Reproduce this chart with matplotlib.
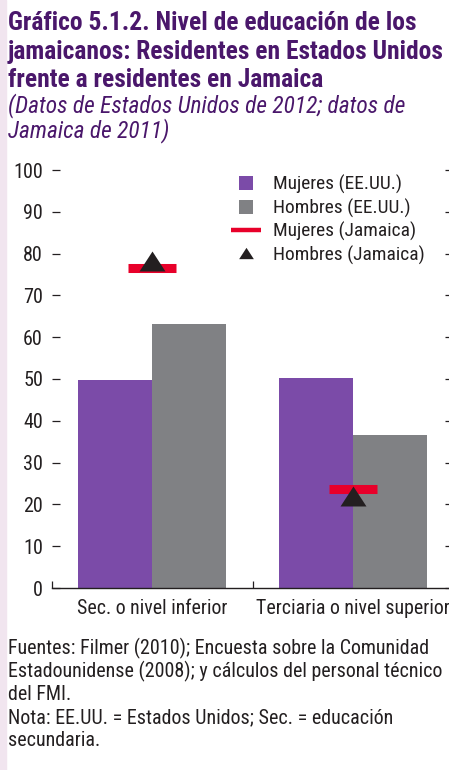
import numpy as np
import matplotlib
matplotlib.use('Agg')
import matplotlib.pyplot as plt
from matplotlib.lines import Line2D
from matplotlib.patches import Rectangle
from matplotlib import font_manager as fm

# ---------------- data ----------------
categories = ['Sec. o nivel inferior', 'Terciaria o nivel superior']
mujeres_eeuu = [49.8, 50.2]
hombres_eeuu = [63.2, 36.6]
mujeres_jamaica = [76.6, 23.8]
hombres_jamaica = [78.2, 21.9]
yticks = [0, 10, 20, 30, 40, 50, 60, 70, 80, 90, 100]
legend_labels = ['Mujeres (EE.UU.)', 'Hombres (EE.UU.)',
                 'Mujeres (Jamaica)', 'Hombres (Jamaica)']
title_lines = ['Gráfico 5.1.2. Nivel de educación de los',
               'jamaicanos: Residentes en Estados Unidos',
               'frente a residentes en Jamaica']
subtitle_lines = ['(Datos de Estados Unidos de 2012; datos de',
                  'Jamaica de 2011)']
footer_lines = ['Fuentes: Filmer (2010); Encuesta sobre la Comunidad',
                'Estadounidense (2008); y cálculos del personal técnico',
                'del FMI.',
                'Nota: EE.UU. = Estados Unidos; Sec. = educación',
                'secundaria.']

# ---------------- style ----------------
PURPLE = '#7B4BA8'
GRAY = '#808184'
RED = '#E8002A'
DARK = '#231F20'
TITLE_C = '#4A176B'
STRIP = '#F1E5EF'

names = {f.name for f in fm.fontManager.ttflist}
FONT = next((n for n in ['Roboto Condensed', 'Liberation Sans Narrow',
                         'Roboto', 'Liberation Sans', 'DejaVu Sans'] if n in names), 'DejaVu Sans')
plt.rcParams['font.family'] = [FONT, 'DejaVu Sans']

W, H, DPI = 449, 770, 100
fig = plt.figure(figsize=(W / DPI, H / DPI), dpi=DPI)
fig.patch.set_facecolor('white')
fig.patches.append(Rectangle((0, 0), 6 / W, 1, transform=fig.transFigure,
                             color=STRIP, zorder=0))

def px(x, y):
    return x / W, 1 - y / H

renderer = fig.canvas.get_renderer()

def size_for(s, target_w, base=14, **kw):
    t = fig.text(0, 0, s, fontsize=base, **kw)
    w = t.get_window_extent(renderer).width
    t.remove()
    return base * target_w / w

def text_block(x, y0, dy, lines, size, **kw):
    for i, s in enumerate(lines):
        fig.text(*px(x, y0 + dy * i), s, fontsize=size, va='baseline',
                 ha='left', **kw)

title_kw = dict(color=TITLE_C, fontweight='heavy')
title_fs = min(size_for(title_lines[0], 417, **title_kw),
               size_for(title_lines[1], 439, **title_kw))
text_block(8, 30, 28.5, title_lines, title_fs, **title_kw)

sub_kw = dict(color=TITLE_C, style='italic')
sub_fs = size_for(subtitle_lines[0], 399, **sub_kw)
text_block(8, 112, 25, subtitle_lines, sub_fs, **sub_kw)

foot_kw = dict(color=DARK)
foot_fs = min(size_for(footer_lines[0], 429, **foot_kw),
              size_for(footer_lines[1], 437, **foot_kw))
text_block(8, 654, 23, footer_lines, foot_fs, **foot_kw)

tick_fs = size_for('100', 30)
leg_fs = size_for(legend_labels[0], 130)
cat_fs = size_for(categories[0], 151)

# ---------------- axes ----------------
left, right, top, bottom = 52, 453, 170, 588
ax = fig.add_axes([left / W, 1 - bottom / H, (right - left) / W, (bottom - top) / H])
ax.set_facecolor('none')
x = np.arange(len(categories))
bw = 0.369
ax.bar(x - bw / 2, mujeres_eeuu, bw, color=PURPLE, zorder=2)
ax.bar(x + bw / 2, hombres_eeuu, bw, color=GRAY, zorder=2)
ax.hlines(mujeres_jamaica, x - 0.119, x + 0.119, color=RED, lw=6.5,
          capstyle='butt', zorder=3)
tri = [(-1.3, -1), (1.3, -1), (0, 1)]
ax.plot(x, hombres_jamaica, ls='', marker=tri, ms=18.7, color=DARK,
        markeredgewidth=0, zorder=4)

ax.set_xlim(-0.5, (right - 152.5) / 202)
ax.set_ylim(0, 100)
for s in ['left', 'right', 'top']:
    ax.spines[s].set_visible(False)
ax.spines['bottom'].set_color(DARK)
ax.spines['bottom'].set_linewidth(1.0)

ax.set_yticks(yticks)
ax.tick_params(axis='y', which='major', direction='in', length=5.8, width=0.9,
               color=DARK, labelsize=tick_fs, labelcolor=DARK, pad=6.5,
               left=True, right=True, labelleft=True, labelright=False)
ax.set_xticks(x)
ax.set_xticklabels(categories)
ax.tick_params(axis='x', which='major', length=0, labelsize=cat_fs,
               labelcolor=DARK, pad=8)
ax.set_xticks([-0.5, 0.5, 1.5], minor=True)
ax.tick_params(axis='x', which='minor', direction='in', length=5, width=0.9,
               color=DARK)

handles = [
    Line2D([], [], ls='', marker='s', ms=10, color=PURPLE, markeredgewidth=0),
    Line2D([], [], ls='', marker='s', ms=10, color=GRAY, markeredgewidth=0),
    Line2D([], [], color=RED, lw=3.2, solid_capstyle='butt'),
    Line2D([], [], ls='', marker=tri, ms=10.6, color=DARK, markeredgewidth=0),
]
leg = ax.legend(handles, legend_labels, loc='upper left',
                bbox_to_anchor=((231 - left) / (right - left), (bottom - 175) / (bottom - top)),
                frameon=False, fontsize=leg_fs, handlelength=1.55, handletextpad=0.6,
                labelspacing=0.22, borderpad=0, borderaxespad=0)
for t in leg.get_texts():
    t.set_color(DARK)

fig.savefig('out.png', dpi=DPI)
